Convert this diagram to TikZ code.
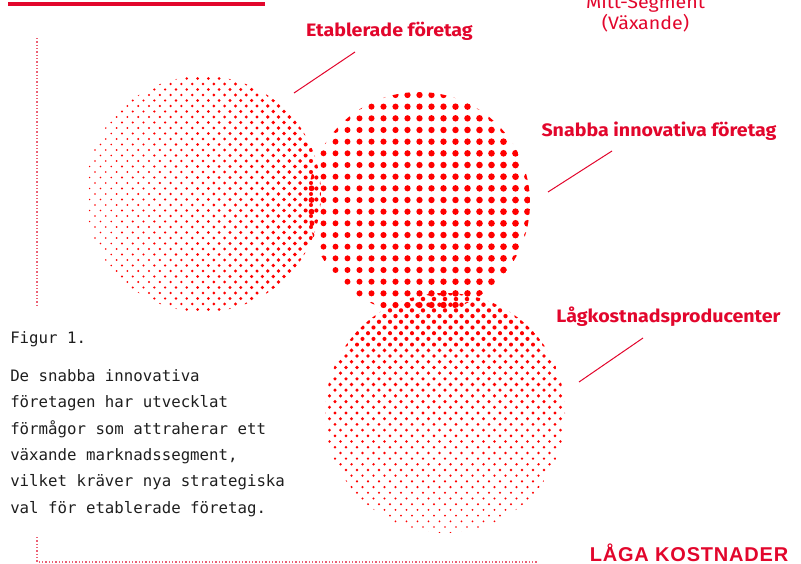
\documentclass[tikz,border=0pt]{standalone}
\usepackage{fontspec}
\setmainfont{Fira Sans}[FakeStretch=1.09]
\setmonofont{DejaVu Sans Mono}
\newfontfamily\capsfont[LetterSpace=4]{Liberation Sans Bold}
\definecolor{dotred}{RGB}{255,0,0}
\definecolor{labred}{RGB}{226,6,44}
\definecolor{framered}{RGB}{236,96,116}
\definecolor{inkgray}{RGB}{30,30,30}

\begin{document}
\begin{tikzpicture}[x=0.75pt,y=-0.75pt,
    lab/.style={text=labred,font=\bfseries\fontsize{13.5}{15}\selectfont},
    midlab/.style={text=labred,font=\fontsize{13.5}{15}\selectfont},
    lead/.style={labred,line width=0.75pt},
    frame/.style={framered,line width=0.8pt,dash pattern=on 0.9pt off 1.6pt},
    mono/.style={text=inkgray,font=\ttfamily\fontsize{11.8}{19.7}\selectfont}]
  \useasboundingbox (0,0) rectangle (801,564);
  \fill[labred] (8,2) rectangle (265,6);

  % Etablerade foretag
  \begin{scope}
    \clip (203,194) circle[radius=88.5pt];
    \foreach \i in {-22,...,22}{
      \foreach \j in {-12,...,11}{
        \pgfmathsetmacro\px{203+10.8*\j+5.4*mod(\i+100,2)}
        \pgfmathsetmacro\py{194+5.5*\i}
        \pgfmathsetmacro\rr{0.75*(0.8+1.3*(\px-85)/236)}
        \fill[dotred] (\px,\py) circle[radius=\rr pt];
      }
    }
  \end{scope}
  % Snabba innovativa foretag
  \begin{scope}
    \clip (419,203) circle[radius=83.25pt];
    \foreach \i in {-10,...,10}{
      \foreach \j in {-10,...,10}{
        \pgfmathsetmacro\px{419.5+12*\j}
        \pgfmathsetmacro\py{200+11.67*\i}
        \pgfmathsetmacro\rr{0.75*(2.9+0.5*(\px-308)/222)}
        \fill[dotred] (\px,\py) circle[radius=\rr pt];
      }
    }
  \end{scope}
  % Lagkostnadsproducenter
  \begin{scope}
    \clip (445,413) circle[radius=90pt];
    \foreach \i in {-22,...,22}{
      \foreach \j in {-12,...,11}{
        \pgfmathsetmacro\px{445+11*\j+5.5*mod(\i+100,2)}
        \pgfmathsetmacro\py{413+5.7*\i}
        \pgfmathsetmacro\rr{0.75*(2.3-1.4*(\py-293)/240)}
        \fill[dotred] (\px,\py) circle[radius=\rr pt];
      }
    }
  \end{scope}

  \node[midlab,anchor=base] (mitt) at (645.5,8) {Mitt-Segment};
  \node[midlab,anchor=base] (vax) at (645.5,30) {(Växande)};
  \node[lab,anchor=base] (etab) at (389.5,36.7) {Etablerade företag};
  \node[lab,anchor=base] (snab) at (659,136) {Snabba innovativa företag};
  \node[lab,anchor=base] (lag) at (668.5,322.5) {Lågkostnadsproducenter};
  \node[text=labred,anchor=base,font=\capsfont\fontsize{15}{17}\selectfont] (low) at (689,561.7) {LÅGA KOSTNADER};

  \coordinate (etabA) at (355,52);
  \coordinate (etabB) at (294,93);
  \coordinate (snabA) at (612,151);
  \coordinate (snabB) at (548,192);
  \coordinate (lagA) at (643,338);
  \coordinate (lagB) at (579,382);
  \draw[lead] (etabA) -- (etabB);
  \draw[lead] (snabA) -- (snabB);
  \draw[lead] (lagA) -- (lagB);

  \coordinate (frameA) at (37,38);
  \coordinate (frameB) at (37,305);
  \coordinate (frameC) at (37,537);
  \coordinate (frameD) at (37,562);
  \coordinate (frameE) at (537,562);
  \draw[frame] (frameA) -- (frameB);
  \draw[frame] (frameC) -- (frameD) -- (frameE);

  \node[mono,anchor=base west,inner sep=0pt] (fig) at (10,343) {Figur 1.};
  \node[mono,anchor=base west,align=left,inner sep=0pt] (desc) at (10,513) {De snabba innovativa\\företagen har utvecklat\\förmågor som attraherar ett\\växande marknadssegment,\\vilket kräver nya strategiska\\val för etablerade företag.};
\end{tikzpicture}
\end{document}
